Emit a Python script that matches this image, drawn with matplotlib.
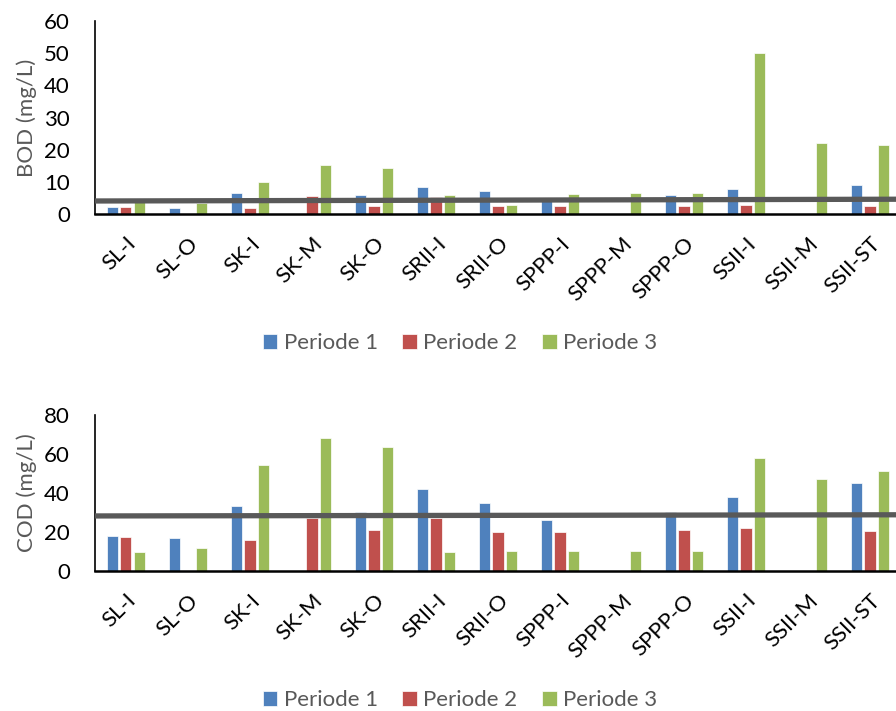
import numpy as np
import matplotlib
matplotlib.use("Agg")
import matplotlib.pyplot as plt

plt.rcParams['font.family'] = ['Lato', 'DejaVu Sans']

sites = ["SL-I", "SL-O", "SK-I", "SK-M", "SK-O", "SRII-I", "SRII-O",
         "SPPP-I", "SPPP-M", "SPPP-O", "SSII-I", "SSII-M", "SSII-ST"]
periods = ["Periode 1", "Periode 2", "Periode 3"]
colors = ["#4F81BD", "#C0504D", "#9BBB59"]

# BOD (mg/L), 0 = no bar
bod_p1 = [2.3, 2.0, 6.6, 0, 6.0, 8.4, 7.0, 4.5, 0, 6.0, 7.7, 0, 9.0]
bod_p2 = [2.1, 0, 1.9, 5.7, 2.5, 5.3, 2.4, 2.4, 0, 2.5, 2.7, 0, 2.5]
bod_p3 = [3.8, 3.5, 9.9, 15.1, 14.2, 5.9, 2.8, 6.2, 6.5, 6.6, 50.0, 22.0, 21.6]
bod_line = [4.05, 4.6]

# COD (mg/L)
cod_p1 = [18.0, 16.9, 33.2, 0, 30.3, 42.1, 35.0, 26.0, 0, 30.0, 38.1, 0, 45.1]
cod_p2 = [17.3, 0, 16.1, 27.0, 20.9, 27.0, 20.2, 20.2, 0, 21.0, 22.2, 0, 20.5]
cod_p3 = [9.9, 11.8, 54.4, 68.4, 63.4, 9.9, 10.0, 10.0, 10.0, 10.0, 58.1, 47.2, 51.3]
cod_line = [28.2, 28.8]


def panel(ax, series, line, ymax, ystep, ylabel):
    x = np.arange(len(sites))
    w = 0.178
    off = 0.218
    for i, vals in enumerate(series):
        ax.bar(x + (i - 1) * off, vals, width=w, color=colors[i],
               edgecolor="white", linewidth=0.5, label=periods[i], zorder=2)
    ax.plot([-0.5, len(sites) - 0.5], line, color="#595959", lw=3.8,
            solid_capstyle="butt", zorder=3)
    ax.set_xlim(-0.5, len(sites) - 0.5)
    ax.set_ylim(0, ymax)
    ax.set_yticks(np.arange(0, ymax + 1, ystep))
    ax.set_xticks(x)
    ax.set_xticklabels(sites, rotation=45, ha="right", va="top",
                       rotation_mode="anchor", fontsize=16)
    ax.tick_params(axis="y", length=0, labelsize=16, pad=18)
    ax.tick_params(axis="x", length=0, pad=14)
    for s in ["top", "right"]:
        ax.spines[s].set_visible(False)
    ax.spines["left"].set_linewidth(1.2)
    ax.spines["bottom"].set_linewidth(1.8)
    ax.set_ylabel(ylabel, fontsize=16, color="#595959", labelpad=5)


fig = plt.figure(figsize=(8.96, 7.11), dpi=100)
ax1 = fig.add_axes([0.106, 0.699, 0.8996, 0.2714])
ax2 = fig.add_axes([0.106, 0.197, 0.8996, 0.2194])

panel(ax1, [bod_p1, bod_p2, bod_p3], bod_line, 60, 10, "BOD (mg/L)")
panel(ax2, [cod_p1, cod_p2, cod_p3], cod_line, 80, 20, "COD (mg/L)")

for ax, ly in [(ax1, 343), (ax2, 700)]:
    h, l = ax.get_legend_handles_labels()
    fig.legend(h, l, loc="center", bbox_to_anchor=(460 / 896, 1 - ly / 711),
               ncol=3, frameon=False, fontsize=16, labelcolor="#595959",
               handlelength=0.65, handleheight=0.65, handletextpad=0.3,
               columnspacing=1.1)

fig.savefig("out.png", dpi=100)
